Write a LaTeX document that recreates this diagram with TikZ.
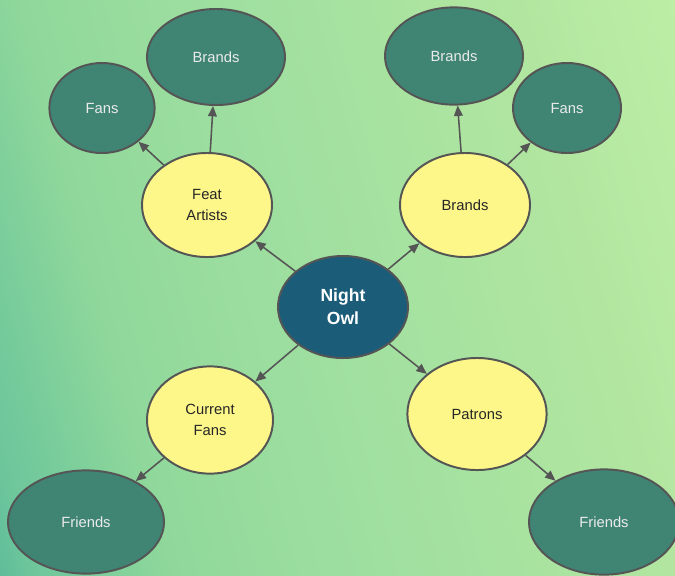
\documentclass[tikz,border=0pt]{standalone}
\usepackage{fontspec}
\setmainfont{Liberation Sans}
\usepackage{tikz}
\usetikzlibrary{shapes.geometric,arrows.meta}
\usepackage{xcolor}
\definecolor{owlblue}{RGB}{27,93,121}
\definecolor{paleyellow}{RGB}{253,247,138}
\definecolor{deepteal}{RGB}{64,133,116}
\definecolor{rimgray}{RGB}{85,85,85}
% background wash, teal on the left fading to lime
\pgfdeclarehorizontalshading{bgwash}{100bp}{%
    rgb(0bp)=(0.373,0.741,0.604);
    rgb(25bp)=(0.373,0.741,0.604);
    rgb(26.7bp)=(0.424,0.773,0.608);
    rgb(29.5bp)=(0.463,0.796,0.608);
    rgb(31.9bp)=(0.502,0.816,0.608);
    rgb(35bp)=(0.557,0.843,0.608);
    rgb(41.5bp)=(0.596,0.863,0.616);
    rgb(45.5bp)=(0.612,0.871,0.627);
    rgb(65.5bp)=(0.698,0.902,0.627);
    rgb(75bp)=(0.741,0.933,0.651);
    rgb(100bp)=(0.741,0.933,0.651)}

\begin{document}
\begin{tikzpicture}[
    x=0.025cm, y=-0.025cm,
    every node/.style={ellipse, draw=rimgray, line width=1.4pt, inner sep=0pt, align=center,
        font=\fontsize{10.5}{14.5}\selectfont},
    hub/.style={fill=owlblue, text=white, font=\fontsize{12.5}{16.5}\selectfont\bfseries},
    mid/.style={fill=paleyellow, text=black!85},
    leaf/.style={fill=deepteal, text=white!92!black},
    link/.style={draw=rimgray, line width=1.1pt, -{Triangle[length=2.6mm,width=2.2mm]}}
]
    \useasboundingbox (0,0) rectangle (675,575);
    \clip (0,0) rectangle (675,575);
    \begin{scope}[transform canvas={rotate around={15:(337.5,287.5)}}]
        \shade[shading=bgwash] (-63,-132.5) rectangle (738,707.5);
    \end{scope}

    % centre
    \node [hub, minimum width=3.25cm, minimum height=2.55cm] (owl) at (343,307) {Night\\Owl};

    % first ring
    \node [mid, minimum width=3.25cm, minimum height=2.6cm] (feat) at (207,205) {Feat\\Artists};
    \node [mid, minimum width=3.25cm, minimum height=2.6cm] (brands) at (465,205) {Brands};
    \node [mid, minimum width=3.15cm, minimum height=2.68cm] (current) at (210,420) {Current\\Fans};
    \node [mid, minimum width=3.48cm, minimum height=2.8cm] (patrons) at (477,414) {Patrons};

    % outer ring
    \node [leaf, minimum width=3.45cm, minimum height=2.4cm] (featbrands) at (216,57) {Brands};
    \node [leaf, minimum width=2.63cm, minimum height=2.25cm] (featfans) at (102,108) {Fans};
    \node [leaf, minimum width=3.45cm, minimum height=2.43cm] (brandsbrands) at (454,56) {Brands};
    \node [leaf, minimum width=2.7cm, minimum height=2.25cm] (brandsfans) at (567,108) {Fans};
    \node [leaf, minimum width=3.9cm, minimum height=2.58cm] (currentfriends) at (86,522) {Friends};
    \node [leaf, minimum width=3.75cm, minimum height=2.63cm] (patronsfriends) at (604,522) {Friends};

    % connectors
    \draw [link] (owl) -- (feat);
    \draw [link] (owl) -- (brands);
    \draw [link] (owl) -- (current);
    \draw [link] (owl) -- (patrons);
    \draw [link] (feat) -- (featfans);
    \draw [link] (feat) -- (featbrands);
    \draw [link] (brands) -- (brandsbrands);
    \draw [link] (brands) -- (brandsfans);
    \draw [link] (current) -- (currentfriends);
    \draw [link] (patrons) -- (patronsfriends);
\end{tikzpicture}
\end{document}
